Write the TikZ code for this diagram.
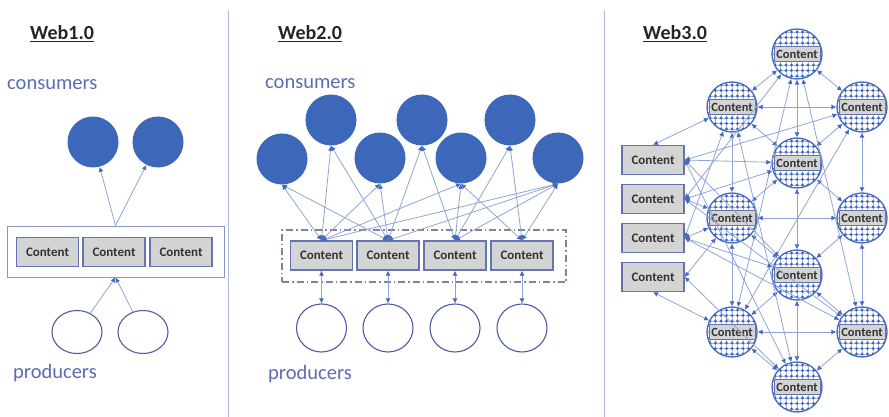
\documentclass[tikz,border=0pt]{standalone}
\usepackage{fontspec}
\setmainfont{Carlito}
\usetikzlibrary{arrows.meta,shapes.geometric}
\definecolor{cons}{HTML}{3D67B9}
\definecolor{lbl}{HTML}{5A6DB2}
\definecolor{edge}{HTML}{8FA3D6}
\definecolor{tip}{HTML}{4369BE}
\definecolor{boxb}{HTML}{6673B3}
\definecolor{boxf}{HTML}{D4D4D4}
\definecolor{sep}{HTML}{AEB8DA}
\definecolor{prod}{HTML}{4D5CA3}
\definecolor{dd}{HTML}{85809F}
\definecolor{frame}{HTML}{8A96C6}
\begin{document}
\begin{tikzpicture}[x=1pt,y=-1pt,
 cbox/.style={draw=boxb,line width=1.3pt,fill=boxf,minimum width=62pt,minimum height=29pt,inner sep=0pt,font=\fontsize{13}{13}\selectfont\bfseries,text=black!80},
 ibox/.style={draw=boxb,line width=1pt,fill=boxf,minimum width=46pt,minimum height=15pt,inner sep=0pt,font=\fontsize{12.5}{12.5}\selectfont\bfseries,text=black!80},
 consumer/.style={circle,fill=cons,minimum size=51pt,inner sep=0pt},
 producer/.style={ellipse,draw=prod,line width=1.1pt,fill=white,minimum width=50pt,minimum height=#1,inner sep=0pt},
 title/.style={font=\fontsize{20}{20}\selectfont\bfseries,text=black!85,anchor=base west,inner sep=0pt},
 lab/.style={font=\fontsize{20.5}{21}\selectfont,text=lbl,anchor=base west,inner sep=0pt},
 link/.style={draw=edge,line width=0.8pt},
 >={Latex[length=5pt,width=5pt,color=tip]},
 web3/.style={circle,draw=tip,line width=1.3pt,minimum size=50pt,inner sep=0pt},
 sepline/.style={draw=sep,line width=1pt},
]
\useasboundingbox (0,0) rectangle (889,417);
% separators
\draw[sepline] (228,10) -- (228,417);
\draw[sepline] (604,10) -- (604,417);

% ---------------- Web1.0
\node[title] (t1) at (30,40) {\underline{Web1.0}};
\node[lab] (l1c) at (7,90) {consumers};
\node[lab] (l1p) at (13,378) {producers};
\node[consumer] (w1c1) at (93,142) {};
\node[consumer] (w1c2) at (158,142) {};
\node[draw=frame,line width=0.9pt,minimum width=217pt,minimum height=51pt,inner sep=0pt] (r1) at (115.5,251.5) {};
\node[cbox] (w1b1) at (47.5,252) {Content};
\node[cbox] (w1b2) at (114,252) {Content};
\node[cbox] (w1b3) at (181,252) {Content};
\node[producer=43pt] (w1p1) at (77,332) {};
\node[producer=43pt] (w1p2) at (143,332) {};
\draw[link,->] (r1.north) -- (w1c1);
\draw[link,->] (r1.north) -- (w1c2);
\draw[link,->] (w1p1) -- (r1.south);
\draw[link,->] (w1p2) -- (r1.south);

% ---------------- Web2.0
\node[title] (t2) at (278,40) {\underline{Web2.0}};
\node[lab] (l2c) at (265,89) {consumers};
\node[lab] (l2p) at (268,379) {producers};
\node[consumer] (c1) at (282,159) {};
\node[consumer] (c2) at (331,120) {};
\node[consumer] (c3) at (380,158) {};
\node[consumer] (c4) at (422,120) {};
\node[consumer] (c5) at (461,158) {};
\node[consumer] (c6) at (510,120) {};
\node[consumer] (c7) at (558,158) {};
\node[draw=dd,line width=1.3pt,dash pattern=on 7pt off 3pt on 1.5pt off 3pt,minimum width=284pt,minimum height=52pt,inner sep=0pt] (r2) at (424,256) {};
\foreach \i/\x in {1/321.5,2/388,3/455,4/522}{
  \node[cbox] (b\i) at (\x,255.5) {Content};
  \node[producer=48pt] (p\i) at (\x,328) {};
  \draw[link,<->] (b\i.south) -- (p\i.north);
}
\foreach \c/\b in {c1/b1,c1/b2,c2/b1,c2/b2,c3/b1,c3/b2,c4/b2,c4/b3,c5/b1,c5/b3,c5/b4,c6/b3,c6/b4,c7/b1,c7/b2,c7/b3,c7/b4}
  \draw[link,<->] (\c.south) -- (\b.north);

% ---------------- Web3.0
\node[title] (t3) at (643,40) {\underline{Web3.0}};
\foreach \i/\x/\y in {1/797/54,2/732/107,3/862/107,4/797/163,5/732/218,6/862/218,7/797/275,8/732/332,9/862/332,10/797/387}{
  \begin{scope}
    \clip (\x,\y) circle (25pt);
    \fill[white] (\x,\y) circle (25pt);
    \foreach \dx in {-22,-16.5,...,22}{
      \draw[tip!45,line width=0.45pt] (\x+\dx,\y-25) -- (\x+\dx,\y+25);
      \foreach \dy in {-22,-16.5,...,22}{
        \draw[tip!45,line width=0.45pt] (\x+\dx-2.6,\y+\dy) -- (\x+\dx+2.6,\y+\dy);
        \fill[tip] (\x+\dx,\y+\dy) +(0,1.7) -- +(1.7,0) -- +(0,-1.7) -- +(-1.7,0) -- cycle;
      }
    }
  \end{scope}
  \node[web3] (n\i) at (\x,\y) {};
  \node[ibox] (n\i c) at (\x,\y) {Content};
}
\node[cbox] (L1) at (653,160) {Content};
\node[cbox] (L2) at (653,199) {Content};
\node[cbox] (L3) at (653,238) {Content};
\node[cbox] (L4) at (653,277) {Content};
\foreach \a/\b in {n1/n2,n1/n3,n1/n4,n2/n3,n2/n4,n3/n4,n2/n5,n3/n6,n4/n5,n4/n6,n4/n7,n5/n6,n5/n7,n6/n7,n5/n8,n6/n9,n7/n8,n7/n9,n7/n10,n8/n9,n8/n10,n9/n10,n1/n8,n1/n9,n2/n10,n3/n8}
  \draw[link,<->] (\a) -- (\b);
\draw[link,<->] (L1.north) -- (n2);
\draw[link,<->] (L4.south) -- (n8);
\foreach \a/\b in {L1/n3,L1/n4,L1/n7,L1/n10,L2/n1,L2/n5,L2/n4,L2/n9,L3/n2,L3/n5,L3/n7,L3/n9,L4/n5,L4/n10}
  \draw[link,<->] (\a.east) -- (\b);
\end{tikzpicture}
\end{document}
